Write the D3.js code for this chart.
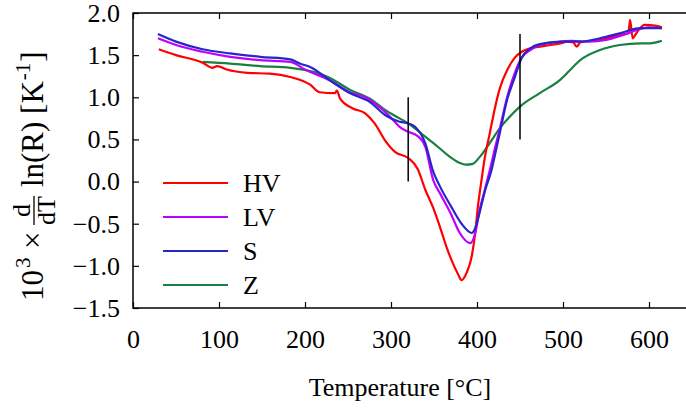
<!DOCTYPE html>
<html>
<head>
<meta charset="utf-8">
<script src="https://cdn.jsdelivr.net/npm/d3@7"></script>
<style>
  body { margin: 0; background: #fff; }
  svg { display: block; }
  svg text { font-family: "Liberation Serif", "Times New Roman", Times, serif; fill: #000; }
</style>
</head>
<body>
<div id="chart"></div>
<script>
// values
const hvT = [30, 50, 81, 92, 98, 109, 133, 159, 183, 206, 217, 235, 237, 241, 255, 270, 281, 293, 305, 320, 331, 340, 349, 357, 365, 372, 378, 382, 388, 394, 398, 401, 405, 409, 415, 421, 427, 435, 444, 452, 462, 479, 497, 505, 512, 516, 520, 543, 566, 576, 578, 581, 584, 588, 595, 607, 615];
const hvV = [1.57, 1.50, 1.41, 1.35, 1.37, 1.33, 1.29, 1.28, 1.24, 1.15, 1.06, 1.05, 1.08, 0.98, 0.87, 0.81, 0.69, 0.49, 0.35, 0.28, 0.15, -0.10, -0.31, -0.54, -0.79, -0.97, -1.10, -1.17, -1.08, -0.88, -0.60, -0.30, 0.00, 0.28, 0.58, 0.88, 1.12, 1.32, 1.47, 1.54, 1.58, 1.61, 1.64, 1.66, 1.65, 1.60, 1.65, 1.68, 1.74, 1.76, 1.92, 1.70, 1.74, 1.80, 1.86, 1.85, 1.83];

const lvT = [29, 50, 81, 113, 148, 183, 200, 229, 252, 270, 287, 299, 310, 320, 331, 340, 349, 357, 369, 380, 392, 398, 403, 409, 415, 421, 427, 435, 444, 452, 462, 473, 490, 510, 530, 550, 570, 590, 600, 615];
const lvV = [1.70, 1.62, 1.54, 1.48, 1.44, 1.42, 1.33, 1.20, 1.06, 1.00, 0.88, 0.77, 0.65, 0.59, 0.54, 0.41, 0.02, -0.14, -0.37, -0.61, -0.73, -0.61, -0.34, -0.10, 0.14, 0.40, 0.65, 1.00, 1.29, 1.47, 1.56, 1.62, 1.65, 1.67, 1.66, 1.68, 1.74, 1.81, 1.83, 1.82];

const sT = [29, 50, 81, 113, 148, 183, 194, 206, 229, 252, 276, 293, 310, 320, 328, 340, 349, 357, 369, 382, 394, 398, 403, 409, 417, 421, 427, 435, 444, 452, 462, 473, 497, 520, 543, 566, 590, 615];
const sV = [1.75, 1.66, 1.57, 1.52, 1.48, 1.45, 1.40, 1.36, 1.20, 1.05, 0.94, 0.79, 0.71, 0.69, 0.65, 0.45, 0.12, -0.06, -0.28, -0.50, -0.61, -0.55, -0.37, -0.12, 0.14, 0.32, 0.60, 0.97, 1.24, 1.47, 1.58, 1.63, 1.66, 1.66, 1.70, 1.76, 1.82, 1.82];

const zT = [81, 113, 148, 183, 206, 229, 252, 276, 293, 310, 320, 334, 349, 369, 380, 387, 395, 403, 415, 427, 438, 450, 473, 497, 508, 520, 543, 566, 590, 601, 615];
const zV = [1.42, 1.40, 1.37, 1.35, 1.31, 1.23, 1.09, 0.98, 0.85, 0.75, 0.69, 0.58, 0.46, 0.29, 0.22, 0.20, 0.21, 0.29, 0.46, 0.64, 0.77, 0.89, 1.05, 1.21, 1.32, 1.44, 1.56, 1.62, 1.64, 1.64, 1.67];

const names = ["HV", "LV", "S", "Z"];
const colors = ["#ff0000", "#c000ff", "#2626cc", "#188040"];
const seriesT = [hvT, lvT, sT, zT];
const seriesV = [hvV, lvV, sV, zV];

// vertical marker lines
const markT = [320, 450];
const markLo = [0.0, 0.5];
const markHi = [1.0, 1.75];

const xTicks = [0, 100, 200, 300, 400, 500, 600];
const yTicks = [-1.5, -1.0, -0.5, 0.0, 0.5, 1.0, 1.5, 2.0];

const width = 686, height = 414;
const plotL = 133, plotR = 692, plotT = 13, plotB = 308;
const serif = "'Liberation Serif', 'Times New Roman', Times, serif";

const svg = d3.select("#chart").append("svg")
    .attr("width", width)
    .attr("height", height);

const x = d3.scaleLinear().domain([0, 650]).range([plotL, plotR]);
const y = d3.scaleLinear().domain([-1.5, 2.0]).range([plotB, plotT]);

function styleAxis(g) {
    g.attr("font-family", serif).attr("font-size", 26);
    g.selectAll("text").attr("fill", "#000");
}

// axes with inward ticks
svg.append("g")
    .attr("transform", "translate(0," + plotB + ")")
    .call(d3.axisBottom(x).tickValues(xTicks).tickSizeInner(-6).tickSizeOuter(0).tickPadding(22).tickFormat(d3.format("d")))
    .call(styleAxis);

svg.append("g")
    .attr("transform", "translate(0," + plotT + ")")
    .call(d3.axisTop(x).tickValues(xTicks).tickSizeInner(-6).tickSizeOuter(0).tickFormat(""));

svg.append("g")
    .attr("transform", "translate(" + plotL + ",0)")
    .call(d3.axisLeft(y).tickValues(yTicks).tickSizeInner(-6).tickSizeOuter(0).tickPadding(13).tickFormat(d3.format(".1f")))
    .call(styleAxis);

svg.append("g")
    .attr("transform", "translate(" + plotR + ",0)")
    .call(d3.axisRight(y).tickValues(yTicks).tickSizeInner(-6).tickSizeOuter(0).tickFormat(""));

svg.selectAll(".domain").remove();
svg.selectAll(".tick line").attr("stroke", "#000").attr("stroke-width", 1.2);

// frame
svg.append("rect")
    .attr("x", plotL).attr("y", plotT)
    .attr("width", plotR - plotL).attr("height", plotB - plotT)
    .attr("fill", "none")
    .attr("stroke", "#000")
    .attr("stroke-width", 1.5);

// curves
const line = d3.line()
    .x(d => x(d[0]))
    .y(d => y(d[1]))
    .curve(d3.curveMonotoneX);

// draw Z first so the others sit on top
[3, 0, 1, 2].forEach(function (i) {
    const pts = seriesT[i].map((t, j) => [t, seriesV[i][j]]);
    svg.append("path")
        .datum(pts)
        .attr("d", line)
        .attr("fill", "none")
        .attr("stroke", colors[i])
        .attr("stroke-width", 2.2)
        .attr("stroke-linejoin", "round");
});

// black marker lines
markT.forEach(function (t, i) {
    svg.append("line")
        .attr("x1", x(t)).attr("x2", x(t))
        .attr("y1", y(markLo[i])).attr("y2", y(markHi[i]))
        .attr("stroke", "#000")
        .attr("stroke-width", 1.5);
});

// legend
const legend = svg.append("g");
names.forEach(function (n, i) {
    const ly = 183 + i * 34;
    legend.append("line")
        .attr("x1", 163).attr("x2", 228)
        .attr("y1", ly).attr("y2", ly)
        .attr("stroke", colors[i])
        .attr("stroke-width", 2.2);
    legend.append("text")
        .attr("x", 243)
        .attr("y", ly + 9)
        .text(n)
        .style("font-size", "26px");
});

// x label
svg.append("text")
    .attr("x", 400)
    .attr("y", 396)
    .attr("text-anchor", "middle")
    .text("Temperature [°C]")
    .style("font-size", "26px");

// y label: 10^3 x d/dT ln(R) [K^-1], rotated; pieces placed along the axis
const yl = svg.append("g").attr("transform", "translate(43,301) rotate(-90)");
function piece(txt, at, size, dy, anchor) {
    return yl.append("text").attr("x", at).attr("y", dy)
        .attr("text-anchor", anchor || "start")
        .text(txt).style("font-size", size + "px");
}
piece("10", 0, 31, 0);
piece("3", 33, 21, -13);
piece("×", 52, 31, 0);
// fraction
const fracStart = 76;
const den = piece("dT", fracStart, 26, 12);
const denW = den.node().getComputedTextLength();
piece("d", fracStart + denW / 2, 26, -13, "middle");
yl.append("line")
    .attr("x1", fracStart).attr("x2", fracStart + denW)
    .attr("y1", -9).attr("y2", -9)
    .attr("stroke", "#000").attr("stroke-width", 1.3);
const restStart = fracStart + denW + 9;
const rest = piece("ln(R) [K", restStart, 31, 0);
const restEnd = restStart + rest.node().getComputedTextLength();
const sup = piece("-1", restEnd + 1, 21, -13);
piece("]", restEnd + 2 + sup.node().getComputedTextLength(), 31, 0);
</script>
</body>
</html>
